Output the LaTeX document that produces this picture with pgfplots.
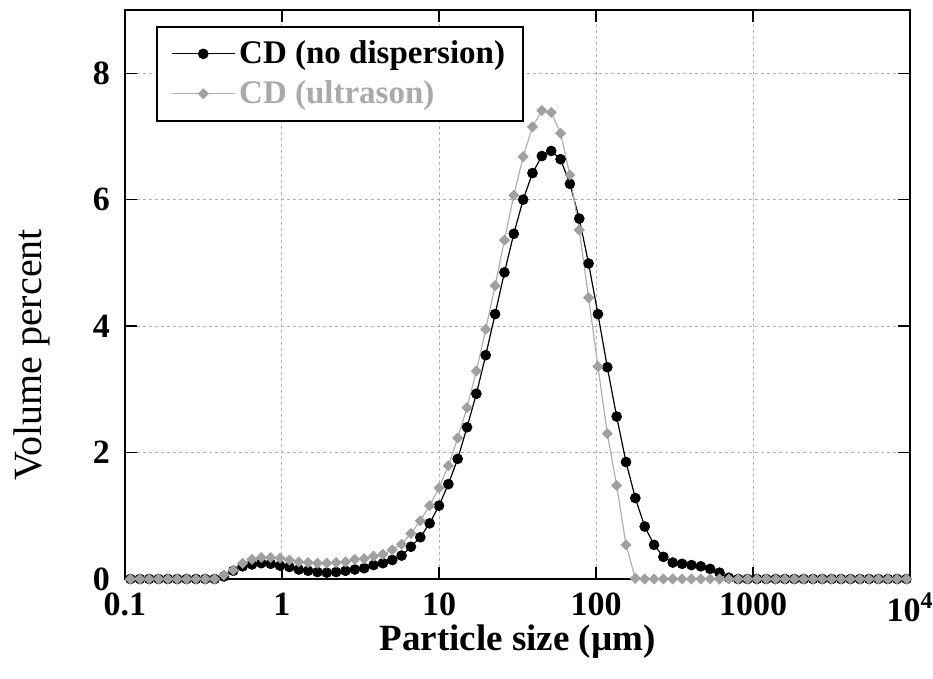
\documentclass[border=0pt]{standalone}
\usepackage{fontspec}
\setmainfont{Liberation Serif}
\usepackage{pgfplots}
\usepackage{pgfplotstable}
\pgfplotsset{compat=1.18}
\definecolor{sergray}{RGB}{160,160,160}
\definecolor{linegray}{RGB}{175,175,175}
\definecolor{gridgray}{RGB}{175,175,175}
\definecolor{leggray}{RGB}{170,170,170}

\pgfplotstableread{
x black gray
0.1083 0 0
0.1242 0 0
0.1425 0 0
0.1635 0 0
0.1875 0 0
0.2150 0 0
0.2466 0 0
0.2829 0 0
0.3245 0 0
0.3721 0 0
0.4268 0.04 0.06
0.4896 0.13 0.14
0.5615 0.20 0.25
0.6440 0.23 0.31
0.7387 0.25 0.34
0.8473 0.24 0.34
0.9718 0.21 0.33
1.1146 0.19 0.30
1.2785 0.15 0.27
1.4664 0.13 0.26
1.6819 0.11 0.25
1.9291 0.10 0.25
2.2126 0.11 0.26
2.5378 0.13 0.27
2.9108 0.15 0.31
3.3387 0.17 0.32
3.8294 0.22 0.36
4.3921 0.25 0.39
5.0378 0.30 0.46
5.7780 0.37 0.55
6.6273 0.51 0.72
7.6011 0.66 0.92
8.7184 0.88 1.16
10.000 1.16 1.44
11.470 1.50 1.79
13.156 1.90 2.23
15.089 2.40 2.71
17.307 2.93 3.29
19.850 3.54 3.95
22.768 4.19 4.64
26.114 4.85 5.36
29.952 5.46 6.07
34.355 6.00 6.68
39.404 6.42 7.15
45.195 6.69 7.41
51.838 6.77 7.38
59.457 6.64 7.05
68.196 6.25 6.39
78.219 5.70 5.52
89.715 4.99 4.45
102.90 4.19 3.36
118.02 3.35 2.30
135.37 2.57 1.48
155.27 1.85 0.54
178.09 1.28 0.01
204.26 0.83 0
234.28 0.54 0
268.72 0.35 0
308.21 0.26 0
353.51 0.24 0
405.47 0.22 0
465.06 0.20 0
533.42 0.16 0
611.81 0.10 0
701.74 0.02 0
804.87 0 0
923.17 0 0
1058.9 0 0
1214.5 0 0
1393.0 0 0
1597.7 0 0
1832.5 0 0
2101.9 0 0
2410.8 0 0
2765.1 0 0
3171.5 0 0
3637.7 0 0
4172.3 0 0
4785.5 0 0
5488.9 0 0
6295.6 0 0
7220.9 0 0
8282.2 0 0
9499.5 0 0
}\datatable

\begin{document}
\begin{tikzpicture}
\begin{axis}[
  scale only axis,
  width=392.5pt, height=284.5pt,
  xmode=log, log basis x=10,
  xmin=0.1, xmax=10000, ymin=0, ymax=9,
  xtick={0.1,1,10,100,1000,10000},
  xticklabels={0.1,1,10,100,1000,10\textsuperscript{4}},
  ytick={0,2,4,6,8},
  yticklabels={0,2,4,6,8},
  ticklabel style={font=\fontsize{17}{20}\selectfont\bfseries},
  xticklabel style={yshift=-3.5pt},
  yticklabel style={xshift=-4pt},
  xmajorgrids, xminorgrids, ymajorgrids,
  grid style={gridgray, dash pattern=on 1.5pt off 1.5pt, line width=0.5pt},
  major grid style={gridgray, dash pattern=on 1.5pt off 1.5pt, line width=0.5pt},
  minor grid style={gridgray, dash pattern=on 1.5pt off 1.5pt, line width=0.5pt},
  tick align=inside, tick pos=both,
  major tick length=6pt, minor tick length=3pt,
  every tick/.style={black, line width=0.6pt},
  axis line style={black, line width=0.8pt},
  clip=false,
  xlabel={\bfseries Particle size (µm)},
  xlabel style={font=\fontsize{18.5}{22}\selectfont, at={(axis description cs:0.5,0)}, anchor=base, yshift=-36pt},
  ylabel={Volume percent},
  ylabel style={font=\fontsize{20}{24}\selectfont, at={(axis description cs:-0.118,0.394)}, anchor=center},
  legend style={at={(0.04,0.972)}, anchor=north west, draw=black, line width=1pt, fill=white,
    font=\fontsize{16.5}{19}\selectfont\bfseries, inner xsep=7pt, inner ysep=5pt, row sep=3pt},
  legend cell align=left,
  legend image code/.code={\draw[mark repeat=2,mark phase=2] plot coordinates {(0cm,0cm) (0.55cm,0cm) (1.1cm,0cm)};},
]
\addplot[black, line width=0.6pt, mark=*, mark size=2.5pt, mark options={fill=black, line width=0.3pt}]
  table[x=x, y=black] {\datatable};
\addlegendentry{CD (no dispersion)}
\addplot[linegray, line width=0.6pt, mark=square*, mark size=1.8pt, mark options={fill=sergray, draw=sergray, rotate=45, line width=0.3pt}]
  table[x=x, y=gray] {\datatable};
\addlegendentry{\textcolor{leggray}{CD (ultrason)}}
\end{axis}
\pgfresetboundingbox
\path ([xshift=-62.5pt,yshift=-50pt]current axis.south west) rectangle ([xshift=11.5pt,yshift=5pt]current axis.north east);
\end{tikzpicture}
\end{document}
